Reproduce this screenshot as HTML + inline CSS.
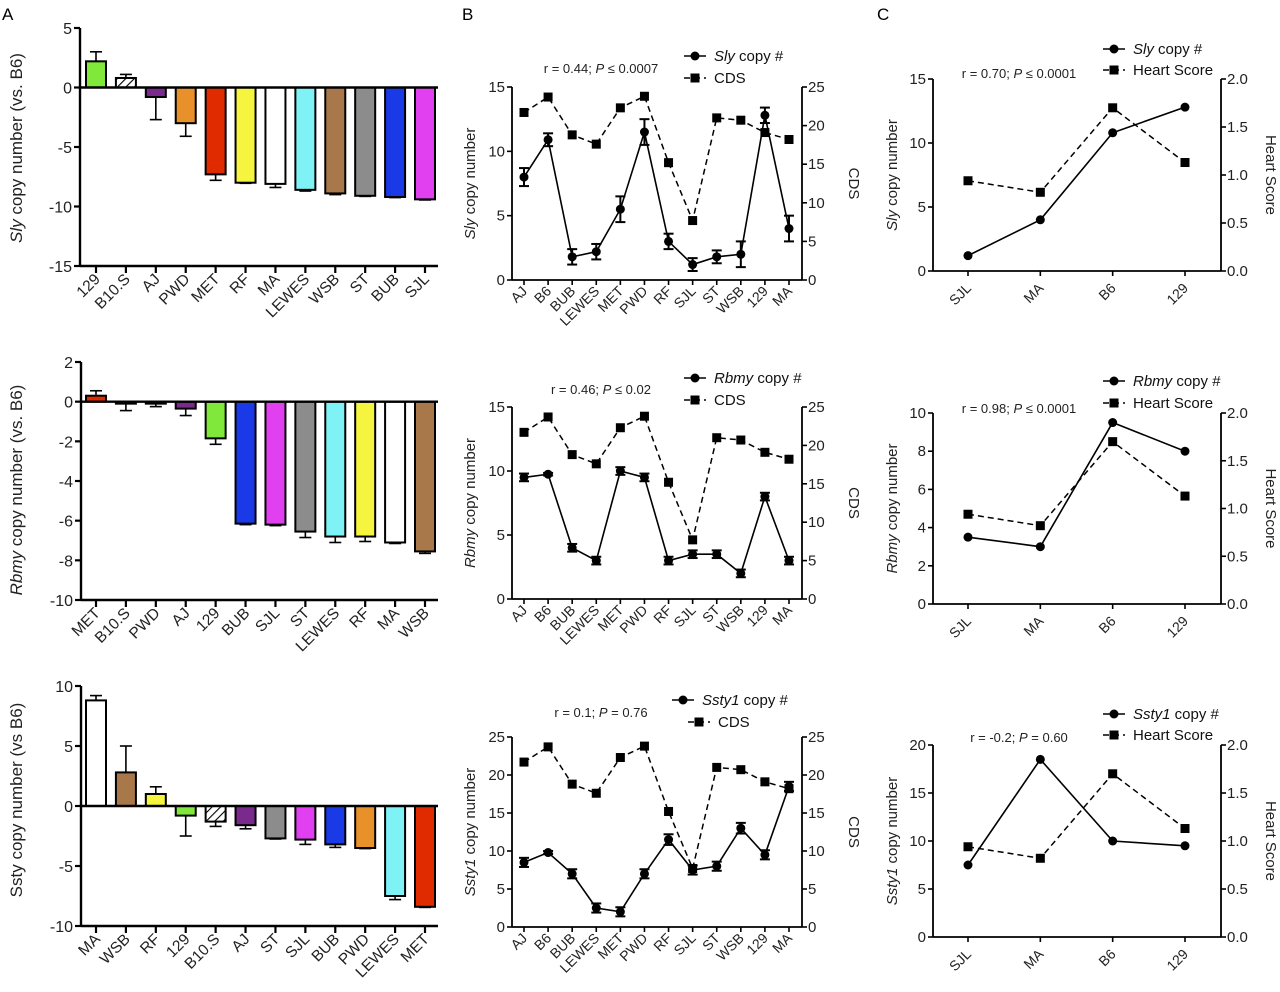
<!DOCTYPE html>
<html><head><meta charset="utf-8">
<style>
html,body{margin:0;padding:0;background:#fff;}
svg{display:block;font-family:"Liberation Sans",Arial,sans-serif;}
</style></head>
<body>
<svg id="fig" width="1280" height="992" viewBox="0 0 1280 992">
<defs>
<pattern id="hatch" patternUnits="userSpaceOnUse" width="6" height="6" patternTransform="rotate(45)">
<rect width="6" height="6" fill="#fff"/><line x1="0" y1="0" x2="0" y2="6" stroke="#000" stroke-width="2.2"/>
</pattern>
</defs>
<text x="2" y="20" font-size="17">A</text>
<text x="462" y="20" font-size="17">B</text>
<text x="877" y="20" font-size="17">C</text>
</svg>
<script>
// ---------- data: panel A ----------
const a1Cats = ["129","B10.S","AJ","PWD","MET","RF","MA","LEWES","WSB","ST","BUB","SJL"];
const a1Vals = [2.2,0.8,-0.8,-3.0,-7.3,-8.0,-8.1,-8.6,-8.9,-9.1,-9.2,-9.4];
const a1Errs = [3.0,1.1,-2.7,-4.1,-7.8,-8.05,-8.4,-8.7,-9.0,-9.15,-9.25,-9.45];
const a1Ticks = [5,0,-5,-10,-15];
const a2Cats = ["MET","B10.S","PWD","AJ","129","BUB","SJL","ST","LEWES","RF","MA","WSB"];
const a2Vals = [0.3,-0.1,-0.1,-0.35,-1.85,-6.15,-6.2,-6.55,-6.8,-6.8,-7.1,-7.55];
const a2Errs = [0.55,-0.45,-0.25,-0.7,-2.15,-6.2,-6.25,-6.85,-7.1,-7.05,-7.15,-7.65];
const a2Ticks = [2,0,-2,-4,-6,-8,-10];
const a3Cats = ["MA","WSB","RF","129","B10.S","AJ","ST","SJL","BUB","PWD","LEWES","MET"];
const a3Vals = [8.8,2.8,1.0,-0.8,-1.3,-1.6,-2.7,-2.8,-3.2,-3.5,-7.5,-8.4];
const a3Errs = [9.2,5.0,1.6,-2.5,-1.7,-1.9,-2.75,-3.2,-3.45,-3.55,-7.8,-8.45];
const a3Ticks = [10,5,0,-5,-10];
const strainColors = {"129":"#7fe83a","B10.S":"url(#hatch)","AJ":"#7a2a8c","PWD":"#e8902a","MET":"#e02a00","RF":"#f5f540","MA":"#ffffff","LEWES":"#7ff2f5","WSB":"#a8784a","ST":"#8c8c8c","BUB":"#1a3ae8","SJL":"#e040f0"};
// ---------- data: panel B ----------
const bCats = ["AJ","B6","BUB","LEWES","MET","PWD","RF","SJL","ST","WSB","129","MA"];
const bCds = [21.7,23.7,18.8,17.6,22.3,23.8,15.2,7.7,21.0,20.7,19.1,18.2];
const b1Vals = [8.0,10.9,1.8,2.2,5.5,11.5,3.0,1.2,1.8,2.0,12.8,4.0];
const b1Errs = [0.7,0.5,0.6,0.6,1.0,1.0,0.6,0.5,0.5,1.0,0.6,1.0];
const b2Vals = [9.5,9.75,4.0,3.0,10.0,9.5,3.0,3.5,3.5,2.0,8.0,3.0];
const b2Errs = [0.3,0.1,0.3,0.3,0.3,0.3,0.3,0.3,0.3,0.3,0.3,0.3];
const b3Vals = [8.5,9.8,7.0,2.5,2.0,7.0,11.5,7.5,8.0,13.0,9.5,18.5];
const b3Errs = [0.6,0.2,0.6,0.6,0.6,0.6,0.7,0.6,0.6,0.7,0.6,0.6];
const b1Ticks = [0,5,10,15];
const b3Ticks = [0,5,10,15,20,25];
const cdsTicks = [0,5,10,15,20,25];
// ---------- data: panel C ----------
const cCats = ["SJL","MA","B6","129"];
const cHeart = [0.94,0.82,1.7,1.13];
const c1Vals = [1.2,4.0,10.8,12.8];
const c2Vals = [3.5,3.0,9.5,8.0];
const c3Vals = [7.5,18.5,10.0,9.5];
const c1Ticks = [0,5,10,15];
const c2Ticks = [0,2,4,6,8,10];
const c3Ticks = [0,5,10,15,20];
const heartTicks = ["0.0","0.5","1.0","1.5","2.0"];

const NS = "http://www.w3.org/2000/svg";
const svg = document.getElementById("fig");
function el(tag, attrs, parent){
  const e = document.createElementNS(NS, tag);
  for (const k in attrs) e.setAttribute(k, attrs[k]);
  (parent||svg).appendChild(e);
  return e;
}
function line(g,x1,y1,x2,y2,w,dash){
  const l = el("line",{x1:x1,y1:y1,x2:x2,y2:y2,stroke:"#000","stroke-width":w||1.5},g);
  if (dash) l.setAttribute("stroke-dasharray",dash);
  return l;
}
function rotTitle(g, x, y, parts, size, angle){
  const t = el("text",{x:x,y:y,"font-size":size,"text-anchor":"middle",transform:`rotate(${angle} ${x} ${y})`,fill:"#222"},g);
  parts.forEach(p=>{ const s = el("tspan",{},t); if(p[1]) s.setAttribute("font-style","italic"); s.textContent=p[0]; });
  return t;
}

// ---------- bar charts ----------
function barChart(name, cats, vals, errs, ticks, cfg){
  const g = el("g",{});
  
  
  const vmax = ticks[0], vmin = ticks[ticks.length-1];
  const y = v => cfg.yTop + (vmax - v) * (cfg.yBot - cfg.yTop) / (vmax - vmin);
  const x0 = cfg.x0, xEnd = 438, first = 96, step = (425-96)/(cats.length-1);
  const xs = i => first + i*step;
  const ya = line(g,x0,cfg.yTop,x0,cfg.yBot+1,2.4);
   
  ticks.forEach(t=>{
    line(g,x0-6,y(t),x0,y(t),2.2);
    const tl = el("text",{x:x0-8,y:y(t)+6,"font-size":16,"text-anchor":"end",fill:"#222"},g);
     
    tl.textContent = t;
  });
  const xa = line(g,x0,cfg.yBot,xEnd,cfg.yBot,2.4);
   
  cats.forEach((c,i)=>{
    const cx = xs(i);
    const v = vals[i], e = errs[i];
    const top = Math.min(y(v),y(0)), h = Math.abs(y(v)-y(0));
    const b = el("rect",{x:cx-10,y:top,width:20,height:Math.max(h,1),fill:strainColors[c],stroke:"#000","stroke-width":2},g);
    
    
    line(g,cx,y(v),cx,y(e),1.6);
    line(g,cx-6,y(e),cx+6,y(e),1.6);
    line(g,cx,cfg.yBot,cx,cfg.yBot+7,2.2);
    const lx = cx+5, ly = cfg.yBot+14;
    const tl = el("text",{x:lx,y:ly,"font-size":15.5,"text-anchor":"end",transform:`rotate(-45 ${lx} ${ly})`,fill:"#222"},g);
     
    tl.textContent = c;
  });
  const zl = line(g,x0,y(0),xEnd,y(0),2.4);
   
  const tt = rotTitle(g, 22, cfg.titleY, cfg.title, 17, -90);
   
}
barChart("bar-chart-sly", a1Cats, a1Vals, a1Errs, a1Ticks, {x0:80,yTop:28,yBot:266,titleY:148,title:[["Sly",1],[" copy number (vs. B6)",0]]});
barChart("bar-chart-rbmy", a2Cats, a2Vals, a2Errs, a2Ticks, {x0:81,yTop:362,yBot:600,titleY:490,title:[["Rbmy",1],[" copy number (vs. B6)",0]]});
barChart("bar-chart-ssty", a3Cats, a3Vals, a3Errs, a3Ticks, {x0:81,yTop:686,yBot:926,titleY:800,title:[["Ssty copy number (vs B6)",0]]});

// ---------- dual axis line charts ----------
function dualChart(name, cats, left, lErr, lTicks, right, rTicks, cfg){
  const g = el("g",{});
  
  
  const lmax = +lTicks[lTicks.length-1], rmax = +rTicks[rTicks.length-1];
  const yl = v => cfg.yBot - v*(cfg.yBot-cfg.yTop)/lmax;
  const yr = v => cfg.yBot - v*(cfg.yBot-cfg.yTop)/rmax;
  const xs = i => cfg.cx0 + i*(cfg.cx1-cfg.cx0)/(cats.length-1);
  const la = line(g,cfg.xl,cfg.yTop,cfg.xl,cfg.yBot,1.8);
   
  const ra = line(g,cfg.xr,cfg.yTop,cfg.xr,cfg.yBot,1.8);
   
  const xa = line(g,cfg.xl,cfg.yBot,cfg.xr,cfg.yBot,1.8);
   
  lTicks.forEach(t=>{
    line(g,cfg.xl-5,yl(t),cfg.xl,yl(t),1.6);
    const tl = el("text",{x:cfg.xl-7,y:yl(t)+5,"font-size":15,"text-anchor":"end",fill:"#222"},g);
     
    tl.textContent = t;
  });
  rTicks.forEach(t=>{
    line(g,cfg.xr,yr(+t),cfg.xr+5,yr(+t),1.6);
    const tl = el("text",{x:cfg.xr+6,y:yr(+t)+5,"font-size":15,"text-anchor":"start",fill:"#222"},g);
     
    tl.textContent = t;
  });
  cats.forEach((c,i)=>{
    line(g,xs(i),cfg.yBot,xs(i),cfg.yBot+5,1.6);
    const lx = xs(i)+4, ly = cfg.yBot+cfg.catDy;
    const tl = el("text",{x:lx,y:ly,"font-size":cfg.catSize,"text-anchor":"end",transform:`rotate(-45 ${lx} ${ly})`,fill:"#222"},g);
     
    tl.textContent = c;
  });
  const rp = el("polyline",{points:right.map((v,i)=>xs(i)+","+yr(v)).join(" "),fill:"none",stroke:"#000","stroke-width":1.5,"stroke-dasharray":"6,4"},g);
   
  right.forEach((v,i)=>{
    const m = el("rect",{x:xs(i)-4.5,y:yr(v)-4.5,width:9,height:9,fill:"#000"},g);
     
  });
  const lp = el("polyline",{points:left.map((v,i)=>xs(i)+","+yl(v)).join(" "),fill:"none",stroke:"#000","stroke-width":1.6},g);
   
  left.forEach((v,i)=>{
    if (lErr){
      const e = lErr[i];
      line(g,xs(i),yl(v-e),xs(i),yl(v+e),2);
      line(g,xs(i)-5,yl(v-e),xs(i)+5,yl(v-e),2);
      line(g,xs(i)-5,yl(v+e),xs(i)+5,yl(v+e),2);
    }
    const m = el("circle",{cx:xs(i),cy:yl(v),r:4.5,fill:"#000"},g);
     
  });
  const lt = rotTitle(g, cfg.ltX, (cfg.yTop+cfg.yBot)/2, cfg.lTitle, 15, -90);
   
  const rt = rotTitle(g, cfg.rtX, (cfg.yTop+cfg.yBot)/2, [[cfg.rTitle,0]], 15, 90);
   
  const rtxt = el("text",{x:cfg.rX,y:cfg.rY,"font-size":13,"text-anchor":"middle",fill:"#222"},g);
   
  cfg.rText.forEach(p=>{ const s = el("tspan",{},rtxt); if(p[1]) s.setAttribute("font-style","italic"); s.textContent=p[0]; });
  const lg = el("g",{},g);
   
  const L = cfg.leg;
  line(lg,L.x1,L.y1,L.x1+22,L.y1,1.6);
  el("circle",{cx:L.x1+11,cy:L.y1,r:4.5,fill:"#000"},lg);
  const t1 = el("text",{x:L.x1+30,y:L.y1+5,"font-size":15,fill:"#111"},lg);
   
  L.t1.forEach(p=>{ const s = el("tspan",{},t1); if(p[1]) s.setAttribute("font-style","italic"); s.textContent=p[0]; });
  line(lg,L.x2,L.y2,L.x2+22,L.y2,1.6,"6,4");
  el("rect",{x:L.x2+6.5,y:L.y2-4.5,width:9,height:9,fill:"#000"},lg);
  const t2 = el("text",{x:L.x2+30,y:L.y2+5,"font-size":15,fill:"#111"},lg);
   
  t2.textContent = L.t2;
}
const bBase = {xl:512,xr:802,cx0:524,cx1:789,catSize:14,catDy:12,ltX:475,rtX:849,rX:601,rTitle:"CDS"};
dualChart("line-chart-sly-cds", bCats, b1Vals, b1Errs, b1Ticks, bCds, cdsTicks,
  Object.assign({},bBase,{yTop:87,yBot:280,rY:73,rText:[["r = 0.44; ",0],["P",1],[" ≤ 0.0007",0]],lTitle:[["Sly",1],[" copy number",0]],
  leg:{x1:684,y1:56,t1:[["Sly",1],[" copy #",0]],x2:684,y2:78,t2:"CDS"}}));
dualChart("line-chart-rbmy-cds", bCats, b2Vals, b2Errs, b1Ticks, bCds, cdsTicks,
  Object.assign({},bBase,{yTop:407,yBot:599,rY:394,rText:[["r = 0.46; ",0],["P",1],[" ≤ 0.02",0]],lTitle:[["Rbmy",1],[" copy number",0]],
  leg:{x1:684,y1:378,t1:[["Rbmy",1],[" copy #",0]],x2:684,y2:400,t2:"CDS"}}));
dualChart("line-chart-ssty1-cds", bCats, b3Vals, b3Errs, b3Ticks, bCds, cdsTicks,
  Object.assign({},bBase,{yTop:737,yBot:927,rY:717,rText:[["r = 0.1; ",0],["P",1],[" = 0.76",0]],lTitle:[["Ssty1",1],[" copy number",0]],
  leg:{x1:672,y1:700,t1:[["Ssty1",1],[" copy #",0]],x2:688,y2:722,t2:"CDS"}}));
const cBase = {xl:933,xr:1221,cx0:968,cx1:1185,catSize:14,catDy:18,ltX:897,rtX:1266,rX:1019,rTitle:"Heart Score"};
dualChart("line-chart-sly-heart", cCats, c1Vals, null, c1Ticks, cHeart, heartTicks,
  Object.assign({},cBase,{yTop:79,yBot:271,rY:78,rText:[["r = 0.70; ",0],["P",1],[" ≤ 0.0001",0]],lTitle:[["Sly",1],[" copy number",0]],
  leg:{x1:1103,y1:49,t1:[["Sly",1],[" copy #",0]],x2:1103,y2:70,t2:"Heart Score"}}));
dualChart("line-chart-rbmy-heart", cCats, c2Vals, null, c2Ticks, cHeart, heartTicks,
  Object.assign({},cBase,{yTop:413,yBot:604,rY:413,rText:[["r = 0.98; ",0],["P",1],[" ≤ 0.0001",0]],lTitle:[["Rbmy",1],[" copy number",0]],
  leg:{x1:1103,y1:381,t1:[["Rbmy",1],[" copy #",0]],x2:1103,y2:403,t2:"Heart Score"}}));
dualChart("line-chart-ssty1-heart", cCats, c3Vals, null, c3Ticks, cHeart, heartTicks,
  Object.assign({},cBase,{yTop:745,yBot:937,rY:742,rText:[["r = -0.2; ",0],["P",1],[" = 0.60",0]],lTitle:[["Ssty1",1],[" copy number",0]],
  leg:{x1:1103,y1:714,t1:[["Ssty1",1],[" copy #",0]],x2:1103,y2:735,t2:"Heart Score"}}));
</script>
</body></html>
